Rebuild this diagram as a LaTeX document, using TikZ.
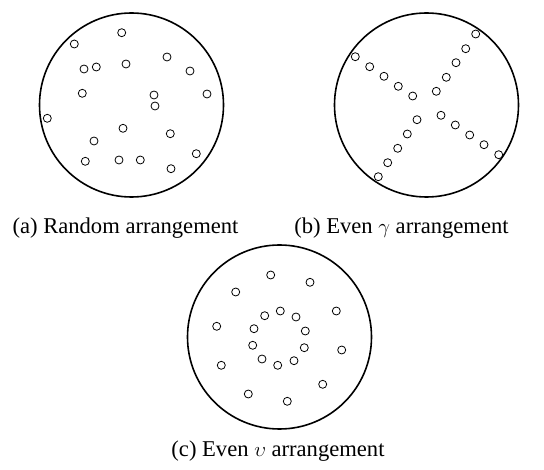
\documentclass[tikz,border=0pt]{standalone}
\usepackage{fontspec}
\setmainfont{Liberation Serif}
\begin{document}
\begin{tikzpicture}[x=1pt,y=-1pt,
  big/.style={circle,draw,line width=1.6pt,minimum size=184pt,inner sep=0pt},
  dot/.style={circle,draw,line width=0.8pt,minimum size=8pt,inner sep=0pt},
  captext/.style={anchor=base,font=\fontsize{22.6}{26}\selectfont,inner sep=0pt}]
\useasboundingbox (0,0) rectangle (544,470);
% (a)
\node[big] (A) at (131.5,105) {};
\foreach \x/\y [count=\i] in {121.7/32.7,74.3/44,84/69,96.3/67,126/64,167/57,190/71,82.3/93.3,154/95,155/106,207/94,47.3/118.3,123/128.3,170.3/133.7,94/141,196.3/153.7,85.3/161.3,119/160,140.3/160,171/168.7}
  \node[dot] (a\i) at (\x,\y) {};
% (b)
\node[big] (B) at (426.5,105) {};
\foreach \x/\y [count=\i] in {475.7/34,465.7/48.7,456/62.7,446.3/77.3,436.3/91.3,355.3/56.7,369.7/66.7,384/76.3,398.3/86.3,412.7/96,417/119.7,407.3/134,397.7/148.3,387.7/162.7,378.3/176.7,441/115.3,455.3/125,469.7/135,484/144.7,498.7/154.7}
  \node[dot] (b\i) at (\x,\y) {};
% (c)
\node[big] (C) at (279.5,337) {};
\foreach \x/\y [count=\i] in {270.7/275,310/282.3,235.7/292,336.3/311,280.3/311,264.7/315.7,296/317,216.7/326.3,254/328.7,305.3/331,252.7/345.3,304.3/347.7,341.7/350,262/359,294/360.7,277.7/365.3,221.3/365.3,322.7/384.3,248.3/394,287.3/401.3}
  \node[dot] (c\i) at (\x,\y) {};
% captions
\node[captext] (la) at (125.5,234) {(a) Random arrangement};
\node[captext] (lb) at (401.5,234) {(b) Even $\gamma$ arrangement};
\node[captext] (lc) at (278,456.5) {(c) Even $\upsilon$ arrangement};
\end{tikzpicture}
\end{document}
